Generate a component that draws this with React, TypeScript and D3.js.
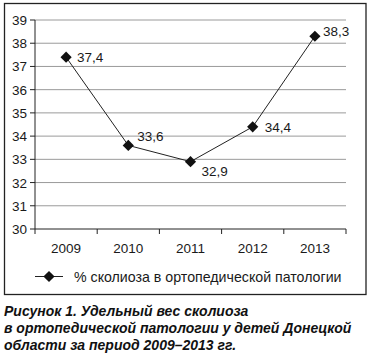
import React from "react";
import * as d3 from "d3";

const years = ["2009", "2010", "2011", "2012", "2013"];
const values = [37.4, 33.6, 32.9, 34.4, 38.3];
const valueLabels = ["37,4", "33,6", "32,9", "34,4", "38,3"];
const yTicks = [30, 31, 32, 33, 34, 35, 36, 37, 38, 39];
const seriesName = "% сколиоза в ортопедической патологии";
const captionLines = [
  "Рисунок 1. Удельный вес сколиоза",
  "в ортопедической патологии у детей Донецкой",
  "области за период 2009–2013 гг.",
];
// label placement relative to point: [dx, dy]
const labelOffsets = [
  [11, 5],
  [9, -4],
  [11, 14],
  [12, 5],
  [8, 0],
];

const W = 368;
const H = 355;
const FONT = "'Liberation Sans', Arial, sans-serif";

export default function App() {
  const left = 35;
  const right = 346;
  const top = 20;
  const bottom = 229;
  const x = d3.scaleBand<string>().domain(years).range([left, right]);
  const y = d3.scaleLinear().domain([30, 39]).range([bottom, top]);
  const line = d3
    .line<number>()
    .x((_, i) => (x(years[i]) as number) + x.bandwidth() / 2)
    .y((d) => y(d));
  const diamond = d3.symbol().type(d3.symbolDiamond2).size(80)();
  const textColor = "#1a1a1a";

  return (
    <svg
      width={W}
      height={H}
      style={{ position: "absolute", left: 0, top: 0, background: "#fff" }}
      fontFamily={FONT}
    >
      <rect x={4.5} y={3.5} width={361.5} height={291} fill="none" stroke="#222" strokeWidth={1.3} />
      {yTicks.map((t) => (
        <g key={t}>
          {t > 30 && (
            <line x1={left} x2={right} y1={y(t)} y2={y(t)} stroke="#9a9a9a" strokeWidth={1} />
          )}
          <line x1={left - 5} x2={left} y1={y(t)} y2={y(t)} stroke="#222" strokeWidth={1} />
          <text x={27} y={y(t) + 5} textAnchor="end" fontSize={13.5} fill={textColor}>
            {t}
          </text>
        </g>
      ))}
      <line x1={left} x2={left} y1={top} y2={bottom} stroke="#222" strokeWidth={1} />
      <line x1={left} x2={right} y1={bottom} y2={bottom} stroke="#222" strokeWidth={1} />
      {[...years.map((yr) => x(yr) as number), right].map((px, i) => (
        <line key={i} x1={px} x2={px} y1={bottom} y2={bottom + 5} stroke="#222" strokeWidth={1} />
      ))}
      {years.map((yr) => (
        <text
          key={yr}
          x={(x(yr) as number) + x.bandwidth() / 2}
          y={252.5}
          textAnchor="middle"
          fontSize={13.5}
          fill={textColor}
        >
          {yr}
        </text>
      ))}
      <path d={line(values) || ""} fill="none" stroke="#222" strokeWidth={1} />
      {values.map((v, i) => {
        const px = (x(years[i]) as number) + x.bandwidth() / 2;
        const py = y(v);
        return (
          <g key={i}>
            <path d={diamond || ""} transform={`translate(${px},${py})`} fill="#111" />
            <text
              x={px + labelOffsets[i][0]}
              y={py + labelOffsets[i][1]}
              fontSize={13.5}
              fill={textColor}
            >
              {valueLabels[i]}
            </text>
          </g>
        );
      })}
      <line x1={35} x2={63} y1={276.5} y2={276.5} stroke="#222" strokeWidth={1} />
      <path d={diamond || ""} transform="translate(49,276.5)" fill="#111" />
      <text x={74} y={281.5} fontSize={14.2} fill={textColor}>
        {seriesName}
      </text>
      {captionLines.map((l, i) => (
        <text
          key={i}
          x={4}
          y={316 + i * 17}
          fontSize={14}
          fontWeight="bold"
          fontStyle="italic"
          fill="#111"
        >
          {l}
        </text>
      ))}
    </svg>
  );
}
